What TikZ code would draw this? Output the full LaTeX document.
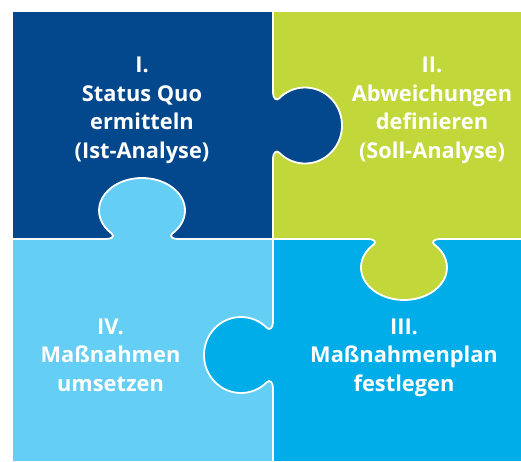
\documentclass[tikz,border=0pt]{standalone}
\usepackage{fontspec}
\setmainfont{Open Sans}
\definecolor{pzdark}{RGB}{3,71,140}
\definecolor{pzgreen}{RGB}{193,215,58}
\definecolor{pzlight}{RGB}{100,206,244}
\definecolor{pzcyan}{RGB}{0,173,232}
\tikzset{
  divline/.style={white, line width=1.8pt},
  knobline/.style={white, line width=1.8pt},
  lbl/.style={text=white, font=\fontsize{21.8}{28.6}\selectfont\bfseries, align=center, inner sep=0pt, anchor=north}
}
% #1=x #2=y #3=rotation #4=colour #5=centre offset #6=radius along #7=radius across #8=neck half width
\newcommand\drawknob[8]{%
  \begin{scope}[shift={(#1,#2)}, rotate=#3]
    \pgfmathsetmacro\kt{180+asin(#8/#7)}
    \pgfmathsetmacro\kte{720-\kt}
    \pgfmathsetmacro\ku{#5+#6*cos(\kt)}
    \fill[#4] (0,{-#8-6}) .. controls (0,{-#8}) and ({\ku-2.5},{-#8+2.5}) .. (\ku,{-#8})
      arc[start angle=\kt, end angle=\kte, x radius=#6pt, y radius=#7pt]
      .. controls ({\ku-2.5},{#8-2.5}) and (0,{#8}) .. (0,{#8+6})
      -- (-1.5,{#8+6}) -- (-1.5,{-#8-6}) -- cycle;
    \draw[knobline] (0,{-#8-7}) -- (0,{-#8-6}) .. controls (0,{-#8}) and ({\ku-2.5},{-#8+2.5}) .. (\ku,{-#8})
      arc[start angle=\kt, end angle=\kte, x radius=#6pt, y radius=#7pt]
      .. controls ({\ku-2.5},{#8-2.5}) and (0,{#8}) .. (0,{#8+6}) -- (0,{#8+7});
  \end{scope}}
\begin{document}
\begin{tikzpicture}[x=1pt, y=1pt]
  \useasboundingbox (0,0) rectangle (521,461);
  \fill[white] (0,0) rectangle (521,461);
  % pieces
  \fill[pzdark]  (13,449) rectangle (273,222);
  \fill[pzgreen] (273,449) rectangle (521,222);
  \fill[pzlight] (13,222) rectangle (273,0);
  \fill[pzcyan]  (273,222) rectangle (521,0);
  % dividers
  \coordinate (vtop) at (273,449);
  \coordinate (vbot) at (273,0);
  \coordinate (hl) at (13,222);
  \coordinate (hr) at (521,222);
  \draw[divline] (vtop) -- (vbot);
  \draw[divline] (hl) -- (hr);
  % knobs
  \drawknob{273}{335.5}{0}{pzdark}{32}{37}{38}{27}
  \drawknob{142}{222}{90}{pzlight}{28.5}{32.5}{43}{30}
  \drawknob{404}{222}{-90}{pzgreen}{28.5}{32.5}{43}{30}
  \drawknob{273}{106}{180}{pzcyan}{32}{37}{38}{27}
  % labels
  \node[lbl] (t1) at (142,404) {I.\\Status Quo\\ermitteln\\(Ist-Analyse)};
  \node[lbl] (t2) at (432,404) {II.\\Abweichungen\\definieren\\(Soll-Analyse)};
  \node[lbl] (t3) at (404,142.7) {III.\\Maßnahmenplan\\festlegen};
  \node[lbl] (t4) at (110.5,142.7) {IV.\\Maßnahmen\\umsetzen};
\end{tikzpicture}
\end{document}
